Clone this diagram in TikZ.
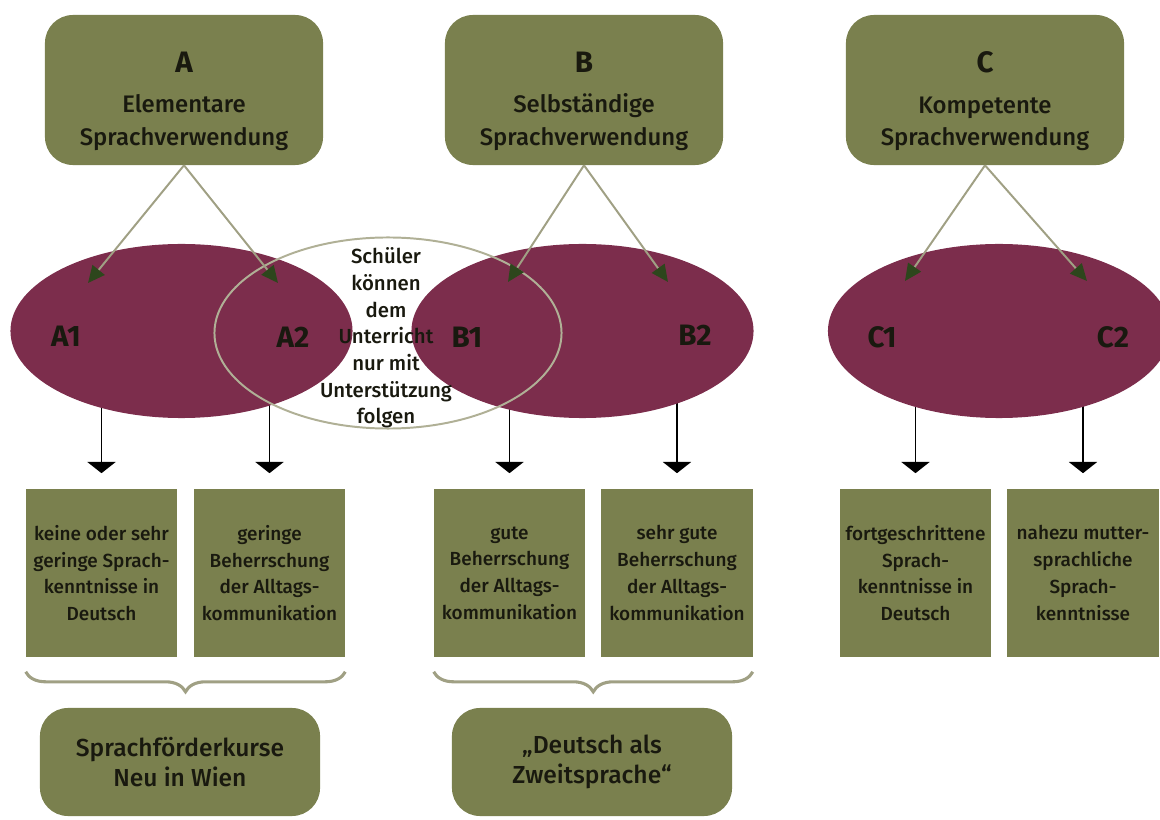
\documentclass[tikz,border=0pt]{standalone}
\usepackage{fontspec}
\setmainfont{Fira Sans}[UprightFont={* Medium},BoldFont={* Bold}]
\usetikzlibrary{shapes.geometric,arrows.meta,calc,decorations.pathreplacing,backgrounds}
\definecolor{boxgreen}{RGB}{122,128,78}
\definecolor{ovalred}{RGB}{124,45,76}
\definecolor{linegrey}{RGB}{160,160,132}
\definecolor{ringgrey}{RGB}{176,176,150}
\definecolor{tipgreen}{RGB}{45,70,28}
\definecolor{inkdark}{RGB}{25,25,15}

\tikzset{
  topbox/.style={fill=boxgreen, rounded corners=0.7cm, minimum width=6.95cm, minimum height=3.75cm},
  toptext/.style={align=center, text=inkdark, font=\fontsize{17}{23}\selectfont},
  oval/.style={ellipse, fill=ovalred, minimum width=8.55cm, minimum height=4.35cm},
  ring/.style={ellipse, draw=ringgrey, line width=1.4pt, minimum width=8.675cm, minimum height=4.775cm},
  lvl/.style={text=inkdark, font=\fontsize{21}{21}\selectfont\bfseries},
  skillbox/.style={fill=boxgreen, minimum width=3.775cm, minimum height=4.175cm,
    align=center, text=inkdark, font=\fontsize{13.5}{19}\selectfont},
  course/.style={fill=boxgreen, rounded corners=0.7cm, minimum width=7cm, minimum height=2.7cm,
    align=center, text=inkdark, font=\fontsize{17.5}{21.5}\selectfont},
  pointer/.style={draw=linegrey, line width=1.4pt, -{Triangle[length=12pt,width=11pt,color=tipgreen]}},
  downarrow/.style={draw=black, line width=1.3pt, -{Triangle[length=8pt,width=20pt]}},
  bracket/.style={draw=linegrey, line width=2.2pt, decorate, decoration={brace,mirror,amplitude=0.5cm}}
}

\begin{document}
\begin{tikzpicture}[x=0.025cm,y=-0.025cm]
    \useasboundingbox (0,0) rectangle (1160,820);
    % the three levels
    \node[topbox] (bA) at (184,90) {};
    \node[topbox] (bB) at (584,90) {};
    \node[topbox] (bC) at (985,90) {};
    \node[toptext] (tA) at (184,101) {{\fontsize{21}{21}\selectfont\bfseries A}\\[6pt]Elementare\\Sprachverwendung};
    \node[toptext] (tB) at (584,101) {{\fontsize{21}{21}\selectfont\bfseries B}\\[6pt]Selbständige\\Sprachverwendung};
    \node[toptext] (tC) at (985,101) {{\fontsize{21}{21}\selectfont\bfseries C}\\[6pt]Kompetente\\Sprachverwendung};
    % ovals
    \node[oval] (eA) at (181.5,331) {};
    \node[oval] (eB) at (582.5,331) {};
    \node[oval] (eC) at (999,331) {};
    \node[lvl] (lA1) at (66,336) {A1};
    \node[lvl] (lA2) at (293,337) {A2};
    \node[lvl] (lB1) at (467,337) {B1};
    \node[lvl] (lB2) at (695,335) {B2};
    \node[lvl] (lC1) at (882,337) {C1};
    \node[lvl] (lC2) at (1113,337) {C2};
    \node[ring] (ring) at (388,333) {};
    \node[align=center, text=inkdark, font=\fontsize{14.5}{19}\selectfont] (rtext) at (386,338)
        {Schüler\\können\\dem\\Unterricht\\nur mit\\Unterstützung\\folgen};
    \coordinate (tA1) at (88,283);
    \coordinate (tA2) at (278,283);
    \coordinate (tB1) at (508,282);
    \coordinate (tB2) at (668,282);
    \coordinate (tC1) at (905,281);
    \coordinate (tC2) at (1087,281);
    \draw[pointer] (bA.south) -- (tA1);
    \draw[pointer] (bA.south) -- (tA2);
    \draw[pointer] (bB.south) -- (tB1);
    \draw[pointer] (bB.south) -- (tB2);
    \draw[pointer] (bC.south) -- (tC1);
    \draw[pointer] (bC.south) -- (tC2);
    % descriptions
    \node[skillbox] (k1) at (101.5,573) {keine oder sehr\\geringe Sprach-\\kenntnisse in\\Deutsch};
    \node[skillbox] (k2) at (269.5,573) {geringe\\Beherrschung\\der Alltags-\\kommunikation};
    \node[skillbox] (k3) at (509.5,573) {gute\\Beherrschung\\der Alltags-\\kommunikation};
    \node[skillbox] (k4) at (677,573) {sehr gute\\Beherrschung\\der Alltags-\\kommunikation};
    \node[skillbox] (k5) at (915.5,573) {fortgeschrittene\\Sprach-\\kenntnisse in\\Deutsch};
    \node[skillbox] (k6) at (1083,573) {nahezu mutter-\\sprachliche\\Sprach-\\kenntnisse};
    \begin{scope}[on background layer]
        \draw[downarrow] (eA.center -| k1.north) -- ($(k1.north)+(0,-16)$);
        \draw[downarrow] (eA.center -| k2.north) -- ($(k2.north)+(0,-16)$);
        \draw[downarrow] (eB.center -| k3.north) -- ($(k3.north)+(0,-16)$);
        \draw[downarrow] (eB.center -| k4.north) -- ($(k4.north)+(0,-16)$);
        \draw[downarrow] (eC.center -| k5.north) -- ($(k5.north)+(0,-16)$);
        \draw[downarrow] (eC.center -| k6.north) -- ($(k6.north)+(0,-16)$);
    \end{scope}
    % courses
    \draw[bracket] ($(k1.south west)+(0,15)$) -- ($(k2.south east)+(0,15)$);
    \draw[bracket] ($(k3.south west)+(0,15)$) -- ($(k4.south east)+(0,15)$);
    \node[course] (c1) at (180,762) {Sprachförderkurse\\Neu in Wien};
    \node[course] (c2) at (592,762) {„Deutsch als\\Zweitsprache“};
\end{tikzpicture}
\end{document}
